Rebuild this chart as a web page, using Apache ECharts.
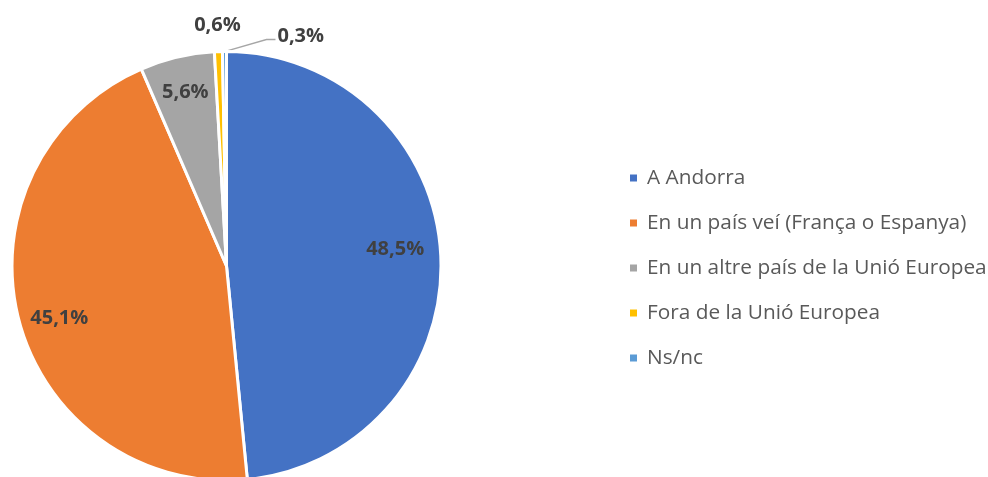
<!DOCTYPE html>
<html>
<head>
<meta charset="utf-8">
<script src="https://cdn.jsdelivr.net/npm/echarts@6/dist/echarts.min.js"></script>
<style>
  html, body { margin: 0; padding: 0; background: #ffffff; }
  #chart { width: 988px; height: 477px; }
</style>
</head>
<body>
<div id="chart"></div>
<script>
// Lloc de residència: categories, percentatges i colors de cada sector
const categories = [
  'A Andorra',
  'En un país veí (França o Espanya)',
  'En un altre país de la Unió Europea',
  'Fora de la Unió Europea',
  'Ns/nc'
];
const values = [48.5, 45.1, 5.6, 0.6, 0.3];
const colors = ['#4472C4', '#ED7D31', '#A5A5A5', '#FFC000', '#5B9BD5'];

const fmt = v => v.toFixed(1).replace('.', ',') + '%';

const center = [226.5, 266];
const radius = 214.5;
const labelFont = { fontFamily: 'Open Sans', fontWeight: 'bold', fontSize: 20, color: '#404040' };

// Sectors; only the two thinnest ones carry an outside label
const sliceData = categories.map((name, i) => {
  const outside = i >= 3;
  return {
    name,
    value: values[i],
    itemStyle: { color: colors[i] },
    label: {
      show: outside,
      position: 'outside',
      formatter: () => fmt(values[i]),
      ...labelFont
    },
    labelLine: {
      show: i === 4,
      lineStyle: { color: '#A6A6A6', width: 1.3 }
    }
  };
});

// Transparent ring used only to hold the inside labels of the big sectors
const labelData = categories.map((name, i) => ({
  name,
  value: values[i],
  label: { show: i < 3, formatter: () => fmt(values[i]), ...labelFont }
}));

const chart = echarts.init(document.getElementById('chart'), null, { renderer: 'canvas' });
chart.setOption({
  animation: false,
  color: colors,
  legend: {
    orient: 'vertical',
    left: 623,
    top: 159,
    icon: 'rect',
    itemWidth: 9,
    itemHeight: 9,
    itemGap: 17,
    data: categories,
    selectedMode: false,
    textStyle: {
      fontFamily: 'Open Sans',
      fontSize: 20.8,
      color: '#595959',
      lineHeight: 28,
      padding: [0, 0, 0, 4]
    }
  },
  series: [
    {
      type: 'pie',
      center,
      radius: [0, radius],
      startAngle: 90,
      clockwise: true,
      avoidLabelOverlap: false,
      silent: true,
      itemStyle: { borderColor: '#ffffff', borderWidth: 3 },
      data: sliceData,
      labelLayout: (p) => {
        if (p.dataIndex === 3) {
          return {
            x: p.rect.x + p.rect.width / 2 - 3,
            y: p.rect.y - 25,
            align: 'center',
            verticalAlign: 'middle'
          };
        }
        if (p.dataIndex === 4 && p.labelLinePoints) {
          const a = p.labelLinePoints[0];
          return {
            x: a[0] + 53,
            y: a[1] - 15,
            align: 'left',
            verticalAlign: 'middle',
            labelLinePoints: [a, [a[0] + 42, a[1] - 12], [a[0] + 51, a[1] - 12]]
          };
        }
        return {};
      }
    },
    {
      type: 'pie',
      center,
      radius: [radius * 0.64, radius],
      startAngle: 90,
      clockwise: true,
      silent: true,
      avoidLabelOverlap: false,
      itemStyle: { color: 'rgba(0,0,0,0)', borderWidth: 0 },
      label: { position: 'inside' },
      labelLine: { show: false },
      data: labelData,
      labelLayout: (p) => {
        if (p.dataIndex === 0) return { dx: -10, dy: -8 };
        if (p.dataIndex === 1) return { dx: 6, dy: 8 };
        return {};
      }
    }
  ]
});
</script>
</body>
</html>
